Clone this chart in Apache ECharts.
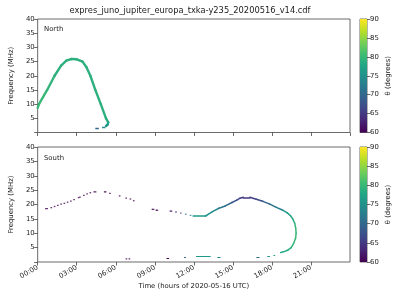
<!DOCTYPE html>
<html><head><meta charset="utf-8">
<script src="https://cdn.jsdelivr.net/npm/echarts@6/dist/echarts.min.js"></script>
<style>html,body{margin:0;padding:0;background:#fff}#c{width:400px;height:300px}</style>
</head><body><div id="c"></div>
<script>
// ---------- data ----------
const chartTitle = 'expres_juno_jupiter_europa_txka-y235_20200516_v14.cdf';
const panelNames = ['North', 'South'];
const xTickHours = [0, 3, 6, 9, 12, 15, 18, 21];
const xAxisName = 'Time (hours of 2020-05-16 UTC)';
const yAxisName = 'Frequency (MHz)';
const cbarName = 'θ (degrees)';

// North continuous curve (hours, MHz, theta deg)
const northTime  = [0.0, 0.1, 0.73, 1.3, 1.8, 2.2, 2.6, 3.0, 3.45, 3.75, 4.05, 4.43, 4.85, 5.25, 5.42, 5.38, 5.25];
const northFreq  = [8.7, 10.0, 15.0, 20.0, 23.6, 25.3, 25.9, 25.8, 25.0, 23.0, 20.0, 15.0, 10.0, 5.0, 3.6, 2.8, 2.3];
const northTheta = [80, 80, 80, 79, 79, 79, 79, 79, 79, 79, 79, 79, 79, 79, 78, 77, 75];
// North short dashes
const northDashStart = [4.43, 4.95];
const northDashEnd   = [4.70, 5.20];
const northDashFreq  = [1.6, 1.9];
const northDashTheta = [70, 74];

// South isolated dots
const southDotTime  = [0.63, 0.73, 1.05, 1.3, 1.55, 1.8, 2.05, 2.3, 2.55, 2.8, 3.15, 3.25, 3.55, 3.8, 4.05, 4.35, 4.45, 5.15, 5.22, 5.55, 6.3, 6.8, 7.13, 7.38, 8.82, 8.9, 9.12, 9.2, 10.2, 10.28, 10.63, 11.0, 11.38, 11.75, 6.82, 7.05];
const southDotFreq  = [18.6, 18.6, 18.9, 19.3, 19.7, 20.1, 20.4, 20.8, 21.2, 21.7, 22.4, 22.6, 23.2, 23.7, 24.1, 24.4, 24.4, 24.4, 24.4, 23.9, 23.0, 22.2, 21.9, 21.3, 18.3, 18.3, 18.0, 18.0, 17.7, 17.7, 17.4, 17.0, 16.6, 16.2, 1.1, 1.1];
const southDotTheta = [60, 60, 60, 60, 60, 60, 60, 60, 60, 60, 60, 60, 60, 60, 60, 60, 60, 60, 60, 60, 60, 60, 60, 60, 60, 60, 60, 60, 61, 61, 65, 67, 71, 73, 60, 60];
// South short dashes
const southDashStart = [9.9, 11.25, 12.17, 13.8, 16.8, 17.65, 18.12];
const southDashEnd   = [10.1, 11.4, 13.3, 14.05, 17.05, 17.85, 18.25];
const southDashFreq  = [1.4, 1.8, 2.0, 1.8, 1.7, 2.0, 2.4];
const southDashTheta = [60, 70, 76, 74, 71, 75, 77];
// South continuous curve
const southTime  = [11.95, 12.9, 13.43, 13.93, 14.42, 14.93, 15.3, 15.55, 15.8, 16.3, 16.8, 17.3, 17.8, 18.3, 18.8, 19.18, 19.43, 19.6, 19.75, 19.83, 19.86, 19.82, 19.67, 19.48, 19.22, 18.92, 18.68];
const southFreq  = [16.0, 16.0, 17.5, 18.7, 19.5, 20.7, 21.5, 22.2, 22.5, 22.5, 21.8, 21.1, 20.2, 19.1, 18.1, 17.1, 16.1, 15.0, 13.5, 11.7, 10.0, 8.3, 6.5, 5.0, 4.1, 3.6, 3.3];
const southTheta = [76, 76, 75, 73, 71, 69, 67, 66, 65, 65, 66, 68, 70, 72, 74, 76, 77, 78, 79, 80, 80, 80, 80, 79, 79, 78, 78];

const cbarTicks = [60, 65, 70, 75, 80, 85, 90];

// ---------- colormap ----------
const viridis = ['#440154','#482475','#414487','#355f8d','#2a788e','#21918c','#22a884','#44bf70','#7ad151','#bddf26','#fde725'];
const TMIN = 60, TMAX = 90;
function hexToRgb(h){return [parseInt(h.substr(1,2),16),parseInt(h.substr(3,2),16),parseInt(h.substr(5,2),16)];}
function cmap(theta){
  let t = Math.max(0, Math.min(1, (theta - TMIN) / (TMAX - TMIN)));
  const p = t * (viridis.length - 1);
  const i = Math.min(viridis.length - 2, Math.floor(p));
  const f = p - i;
  const a = hexToRgb(viridis[i]), b = hexToRgb(viridis[i+1]);
  return 'rgb(' + a.map((v,k)=>Math.round(v + (b[k]-v)*f)).join(',') + ')';
}

// ---------- builders ----------
function curveItems(ts, fs, th){
  const out = [];
  for (let i = 0; i < ts.length - 1; i++){
    out.push({coords: [[ts[i], fs[i]], [ts[i+1], fs[i+1]]], lineStyle: {color: cmap((th[i]+th[i+1])/2)}});
  }
  return out;
}
function dashItems(s, e, f, th){
  return s.map((v,i)=>({coords: [[v, f[i]], [e[i], f[i]]], lineStyle: {color: cmap(th[i])}}));
}
function dotItems(t, f, th){
  return t.map((v,i)=>({value: [v, f[i]], itemStyle: {color: cmap(th[i])}}));
}

const FONT = 'DejaVu Sans';
const TXT = '#222';
const FS = 6.9;
const frame = '#444';

const mainGrids = [
  {left: 31, top: 19, width: 319, height: 113.5, show: true, borderColor: frame, borderWidth: 0.8, backgroundColor: 'transparent'},
  {left: 31, top: 147, width: 319, height: 115, show: true, borderColor: frame, borderWidth: 0.8, backgroundColor: 'transparent'}
];
const cbGrids = [
  {left: 360, top: 19, width: 7, height: 113.5, show: true, borderColor: frame, borderWidth: 0.8},
  {left: 360, top: 147, width: 7, height: 115, show: true, borderColor: frame, borderWidth: 0.8}
];

function timeLabel(v){ if (v >= 24) return ''; return (v < 10 ? '0' : '') + v + ':00'; }

function mainX(idx, showLabels){
  return {
    type: 'value', gridIndex: idx, min: 0, max: 24, interval: 3,
    axisLine: {show: false},
    axisTick: {show: true, inside: false, length: 3.5, lineStyle: {color: frame, width: 0.8}},
    splitLine: {show: false},
    axisLabel: {show: showLabels, rotate: 30, fontSize: FS, fontFamily: FONT, color: TXT, margin: 5, formatter: timeLabel, hideOverlap: false, showMaxLabel: false},
    name: showLabels ? xAxisName : '', nameLocation: 'middle', nameGap: 21,
    nameTextStyle: {fontSize: FS, fontFamily: FONT, color: TXT}
  };
}
function mainY(idx){
  return {
    type: 'value', gridIndex: idx, min: 0, max: 40, interval: 5,
    axisLine: {show: false},
    axisTick: {show: true, inside: false, length: 3.5, lineStyle: {color: frame, width: 0.8}},
    splitLine: {show: false},
    axisLabel: {fontSize: FS, fontFamily: FONT, color: TXT, margin: 3, formatter: v => v === 0 ? '' : String(v)},
    name: yAxisName, nameLocation: 'middle', nameGap: 19,
    nameTextStyle: {fontSize: FS, fontFamily: FONT, color: TXT}
  };
}
function cbX(idx){ return {type: 'category', gridIndex: idx, data: ['c'], show: false, boundaryGap: true}; }
function cbY(idx){
  return {
    type: 'value', gridIndex: idx, position: 'right', min: cbarTicks[0], max: cbarTicks[cbarTicks.length-1], interval: 5,
    axisLine: {show: false},
    axisTick: {show: true, inside: false, length: 3.5, lineStyle: {color: frame, width: 0.8}},
    splitLine: {show: false},
    axisLabel: {fontSize: FS, fontFamily: FONT, color: TXT, margin: 3},
    name: cbarName, nameLocation: 'middle', nameGap: 18, nameRotate: 90,
    nameTextStyle: {fontSize: FS, fontFamily: FONT, color: TXT}
  };
}

const grad = {type: 'linear', x: 0, y: 1, x2: 0, y2: 0,
  colorStops: viridis.map((c,i)=>({offset: i/(viridis.length-1), color: c}))};

const series = [
  {type: 'lines', coordinateSystem: 'cartesian2d', xAxisIndex: 0, yAxisIndex: 0, silent: true,
   lineStyle: {width: 2.4, cap: 'round', join: 'round', opacity: 1}, data: curveItems(northTime, northFreq, northTheta)},
  {type: 'lines', coordinateSystem: 'cartesian2d', xAxisIndex: 0, yAxisIndex: 0, silent: true,
   lineStyle: {width: 1.3, cap: 'butt', opacity: 1}, data: dashItems(northDashStart, northDashEnd, northDashFreq, northDashTheta)},
  {type: 'lines', coordinateSystem: 'cartesian2d', xAxisIndex: 1, yAxisIndex: 1, silent: true,
   lineStyle: {width: 1.5, cap: 'round', join: 'round', opacity: 1}, data: curveItems(southTime, southFreq, southTheta)},
  {type: 'lines', coordinateSystem: 'cartesian2d', xAxisIndex: 1, yAxisIndex: 1, silent: true,
   lineStyle: {width: 1.2, cap: 'butt', opacity: 1}, data: dashItems(southDashStart, southDashEnd, southDashFreq, southDashTheta)},
  {type: 'scatter', xAxisIndex: 1, yAxisIndex: 1, silent: true, symbol: 'rect', symbolSize: [1.6, 1.3],
   data: dotItems(southDotTime, southDotFreq, southDotTheta)},
  {type: 'bar', xAxisIndex: 2, yAxisIndex: 2, stack: 'a', barWidth: '100%', silent: true, itemStyle: {color: 'rgba(0,0,0,0)'}, data: [TMIN]},
  {type: 'bar', xAxisIndex: 2, yAxisIndex: 2, stack: 'a', barWidth: '100%', silent: true, itemStyle: {color: grad}, data: [TMAX - TMIN]},
  {type: 'bar', xAxisIndex: 3, yAxisIndex: 3, stack: 'b', barWidth: '100%', silent: true, itemStyle: {color: 'rgba(0,0,0,0)'}, data: [TMIN]},
  {type: 'bar', xAxisIndex: 3, yAxisIndex: 3, stack: 'b', barWidth: '100%', silent: true, itemStyle: {color: grad}, data: [TMAX - TMIN]}
];

const chart = echarts.init(document.getElementById('c'), null, {renderer: 'canvas'});
chart.setOption({
  animation: false,
  backgroundColor: '#fff',
  textStyle: {fontFamily: FONT},
  grid: [mainGrids[0], mainGrids[1], cbGrids[0], cbGrids[1]],
  xAxis: [mainX(0, false), mainX(1, true), cbX(2), cbX(3)],
  yAxis: [mainY(0), mainY(1), cbY(2), cbY(3)],
  series: series,
  graphic: [
    {type: 'text', x: 190, y: 11, style: {text: chartTitle, font: '8.3px "DejaVu Sans"', fill: TXT, textAlign: 'center', textVerticalAlign: 'middle'}},
    {type: 'text', x: 44, y: 29.5, style: {text: panelNames[0], font: '6.9px "DejaVu Sans"', fill: TXT, textVerticalAlign: 'middle'}},
    {type: 'text', x: 44, y: 158.5, style: {text: panelNames[1], font: '6.9px "DejaVu Sans"', fill: TXT, textVerticalAlign: 'middle'}}
  ]
});
</script>
</body></html>
